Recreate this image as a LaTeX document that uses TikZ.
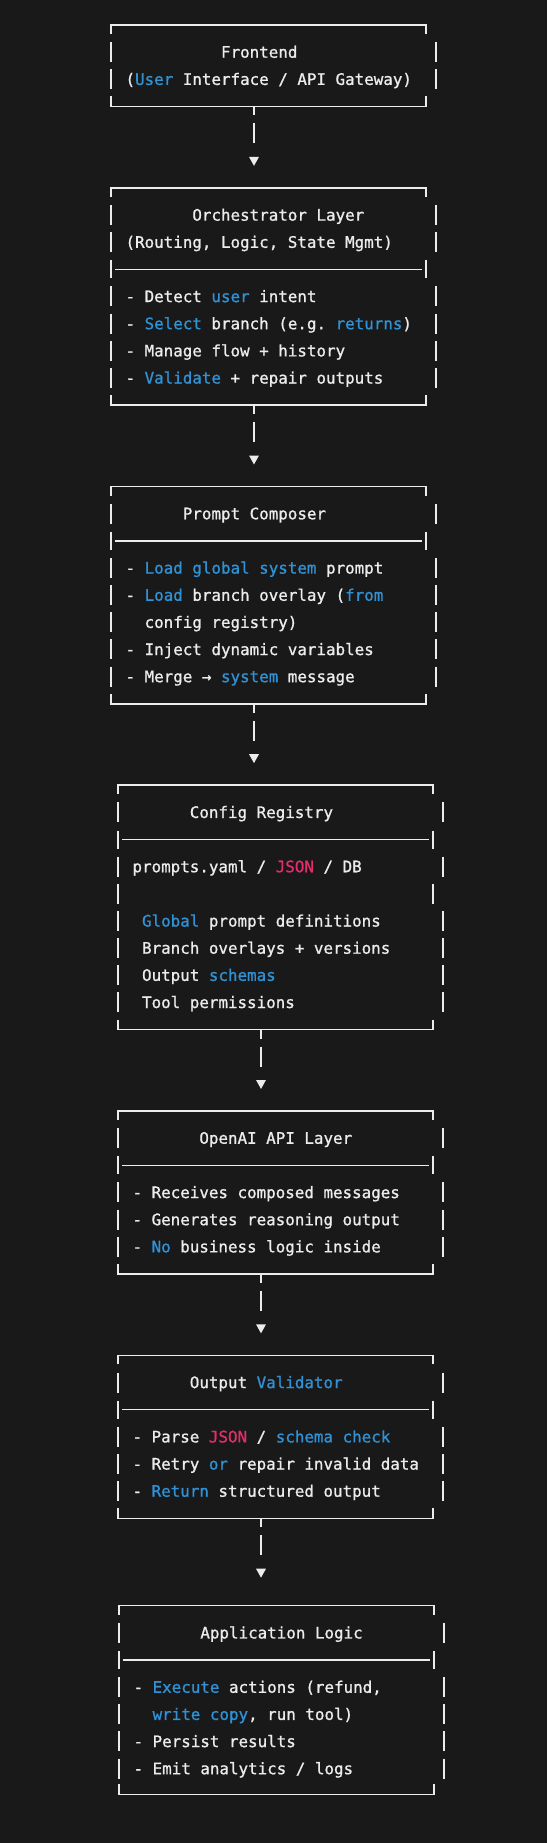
\documentclass[tikz,border=0pt]{standalone}
\usepackage{fontspec}
\setmonofont[FakeBold=1]{DejaVu Sans Mono}
\usetikzlibrary{positioning,arrows.meta}

\definecolor{bgdark}{RGB}{25,25,25}
\definecolor{fgtext}{RGB}{236,236,236}
\definecolor{kwblue}{RGB}{48,145,212}
\definecolor{kwpink}{RGB}{228,45,110}

\newcommand\kw[1]{\textcolor{kwblue}{#1}}
\newcommand\js[1]{\textcolor{kwpink}{#1}}

% one text row of a panel: #1 panel, #2 row, #3 character cell, #4 text
\newcommand\panelline[4]{%
  \node[txt] (#1-#2) at ([xshift={#3*9.55pt-4.775pt}, yshift={-#2*27.15pt-5.6pt}]#1.north west) {#4};}

% frame of a panel: #1 panel, #2 rows that get side bars
\newcommand\panelframe[2]{%
  \draw[frame] ([yshift=-9pt]#1.north west) -- (#1.north west) -- (#1.north east) -- ([yshift=-9pt]#1.north east);
  \draw[frame] ([yshift=10pt]#1.south west) -- (#1.south west) -- (#1.south east) -- ([yshift=10pt]#1.south east);
  \foreach \r in {#2} {
    \draw[frame] ([yshift={-\r*27.15pt+10pt}]#1.north west) -- ++(0,-20);
    \draw[frame] ([xshift=10pt, yshift={-\r*27.15pt+10pt}]#1.north east) -- ++(0,-20);
  }}

% separator rule of a panel: #1 panel, #2 row
\newcommand\panelrule[2]{%
  \draw[frame] ([yshift={-#2*27.15pt+9pt}]#1.north west) -- ++(0,-18);
  \draw[frame] ([yshift={-#2*27.15pt+9pt}]#1.north east) -- ++(0,-18);
  \draw[frame] ([xshift=4pt, yshift={-#2*27.15pt}]#1.north west) -- ([xshift=-4pt, yshift={-#2*27.15pt}]#1.north east);}

\begin{document}
\begin{tikzpicture}[
    x=1pt, y=1pt,
    panel/.style={rectangle, minimum width=315pt, inner sep=0pt, outer sep=0pt},
    txt/.style={anchor=base west, inner sep=0pt, text=fgtext, font=\ttfamily\fontsize{15.86pt}{27.15pt}\selectfont},
    frame/.style={draw=fgtext, line width=1.5pt},
    flow/.style={draw=fgtext, line width=1.5pt, dash pattern=on 9pt off 8pt on 20pt off 80pt,
      -{Triangle[width=9.5pt,length=9pt]}, shorten >=22pt}
  ]

    \fill[bgdark] (0,0) rectangle (547,-1843);

    % Panels, top to bottom
    \node[panel, minimum height=81.45pt, anchor=north west] (front) at (111,-25) {};
    \node[panel, minimum height=217.2pt, below=81.45pt of front] (orch) {};
    \node[panel, minimum height=217.2pt, below=81.45pt of orch] (compose) {};
    \node[panel, minimum height=244.35pt, below=81.45pt of compose, xshift=7pt] (registry) {};
    \node[panel, minimum height=162.9pt, below=81.45pt of registry] (openai) {};
    \node[panel, minimum height=162.9pt, below=81.45pt of openai] (validator) {};
    \node[panel, minimum height=188.6pt, below=87.45pt of validator, xshift=1pt] (applogic) {};

    % Frames
    \panelframe{front}{1,2}
    \panelframe{orch}{1,2,4,5,6,7}
    \panelrule{orch}{3}
    \panelframe{compose}{1,3,4,5,6,7}
    \panelrule{compose}{2}
    \panelframe{registry}{1,3,5,6,7,8}
    \panelrule{registry}{2}
    \draw[frame] ([yshift={-4*27.15pt+10pt}]registry.north west) -- ++(0,-20);
    \draw[frame] ([yshift={-4*27.15pt+10pt}]registry.north east) -- ++(0,-20);
    \panelframe{openai}{1,3,4,5}
    \panelrule{openai}{2}
    \panelframe{validator}{1,3,4,5}
    \panelrule{validator}{2}
    \panelframe{applogic}{1,3,4,5,6}
    \panelrule{applogic}{2}

    % Frontend
    \panelline{front}{1}{12}{Frontend}
    \panelline{front}{2}{2}{(\kw{User} Interface / API Gateway)}

    % Orchestrator
    \panelline{orch}{1}{9}{Orchestrator Layer}
    \panelline{orch}{2}{2}{(Routing, Logic, State Mgmt)}
    \panelline{orch}{4}{2}{- Detect \kw{user} intent}
    \panelline{orch}{5}{2}{- \kw{Select} branch (e.g. \kw{returns})}
    \panelline{orch}{6}{2}{- Manage flow + history}
    \panelline{orch}{7}{2}{- \kw{Validate} + repair outputs}

    % Prompt Composer
    \panelline{compose}{1}{8}{Prompt Composer}
    \panelline{compose}{3}{2}{- \kw{Load global system} prompt}
    \panelline{compose}{4}{2}{- \kw{Load} branch overlay (\kw{from}}
    \panelline{compose}{5}{4}{config registry)}
    \panelline{compose}{6}{2}{- Inject dynamic variables}
    \panelline{compose}{7}{2}{- Merge → \kw{system} message}

    % Config Registry
    \panelline{registry}{1}{8}{Config Registry}
    \panelline{registry}{3}{2}{prompts.yaml / \js{JSON} / DB}
    \panelline{registry}{5}{3}{\kw{Global} prompt definitions}
    \panelline{registry}{6}{3}{Branch overlays + versions}
    \panelline{registry}{7}{3}{Output \kw{schemas}}
    \panelline{registry}{8}{3}{Tool permissions}

    % OpenAI API Layer
    \panelline{openai}{1}{9}{OpenAI API Layer}
    \panelline{openai}{3}{2}{- Receives composed messages}
    \panelline{openai}{4}{2}{- Generates reasoning output}
    \panelline{openai}{5}{2}{- \kw{No} business logic inside}

    % Output Validator
    \panelline{validator}{1}{8}{Output \kw{Validator}}
    \panelline{validator}{3}{2}{- Parse \js{JSON} / \kw{schema check}}
    \panelline{validator}{4}{2}{- Retry \kw{or} repair invalid data}
    \panelline{validator}{5}{2}{- \kw{Return} structured output}

    % Application Logic
    \panelline{applogic}{1}{9}{Application Logic}
    \panelline{applogic}{3}{2}{- \kw{Execute} actions (refund,}
    \panelline{applogic}{4}{4}{\kw{write copy}, run tool)}
    \panelline{applogic}{5}{2}{- Persist results}
    \panelline{applogic}{6}{2}{- Emit analytics / logs}

    % Connectors
    \coordinate (front-out) at ([xshift=143pt]front.south west);
    \coordinate (orch-out) at ([xshift=143pt]orch.south west);
    \coordinate (compose-out) at ([xshift=143pt]compose.south west);
    \coordinate (registry-out) at ([xshift=143pt]registry.south west);
    \coordinate (openai-out) at ([xshift=143pt]openai.south west);
    \coordinate (validator-out) at ([xshift=143pt]validator.south west);
    \draw[flow] (front-out) -- (front-out |- orch.north);
    \draw[flow] (orch-out) -- (orch-out |- compose.north);
    \draw[flow] (compose-out) -- (compose-out |- registry.north);
    \draw[flow] (registry-out) -- (registry-out |- openai.north);
    \draw[flow] (openai-out) -- (openai-out |- validator.north);
    \draw[flow, shorten >=28pt] (validator-out) -- (validator-out |- applogic.north);
  \end{tikzpicture}
\end{document}
